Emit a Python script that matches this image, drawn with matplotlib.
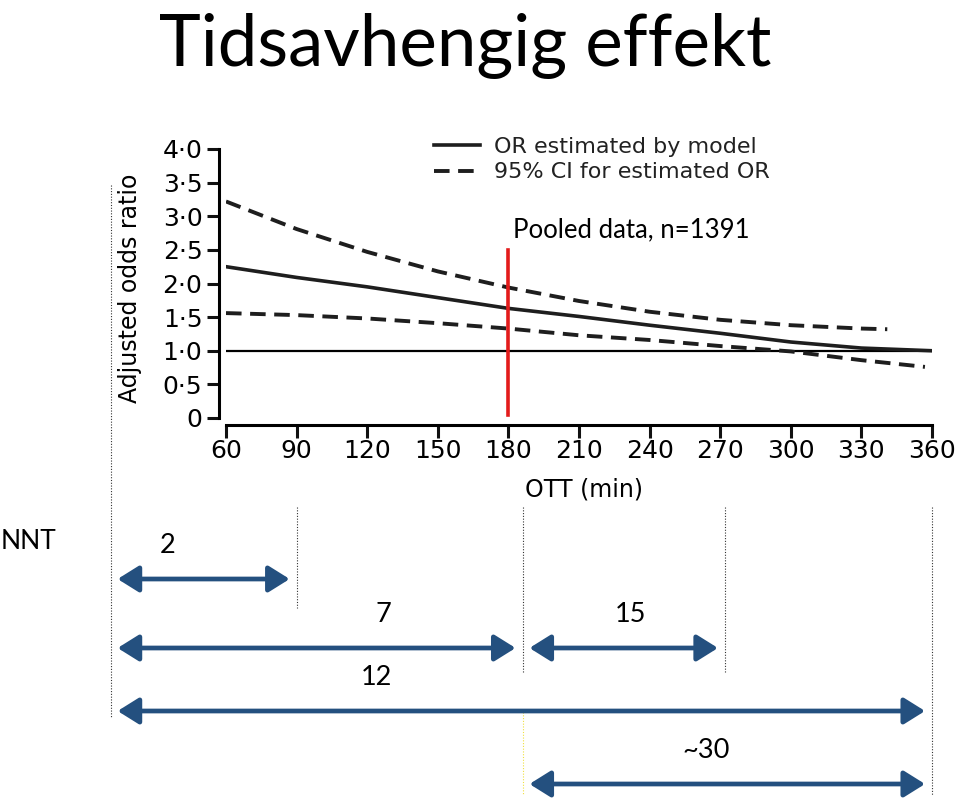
import matplotlib
matplotlib.use("Agg")
import matplotlib.pyplot as plt

# curve values (OTT in minutes, adjusted OR)
ott = [60, 90, 120, 150, 180, 210, 240, 270, 300, 330, 360]
or_est = [2.25, 2.09, 1.95, 1.79, 1.63, 1.51, 1.38, 1.26, 1.13, 1.04, 1.00]
ci_hi_ott = [60, 90, 120, 150, 180, 210, 240, 270, 300, 330, 341]
ci_hi = [3.22, 2.81, 2.47, 2.18, 1.94, 1.74, 1.58, 1.46, 1.38, 1.33, 1.32]
ci_lo_ott = [60, 90, 120, 150, 180, 210, 240, 270, 300, 330, 357]
ci_lo = [1.56, 1.53, 1.48, 1.41, 1.33, 1.23, 1.16, 1.07, 0.99, 0.86, 0.76]

x_ticks = [60, 90, 120, 150, 180, 210, 240, 270, 300, 330, 360]
y_ticks = [0, 0.5, 1.0, 1.5, 2.0, 2.5, 3.0, 3.5, 4.0]
y_ticklabels = ['0', '0·5', '1·0', '1·5', '2·0', '2·5', '3·0', '3·5', '4·0']

# NNT intervals (on the chart's OTT scale)
nnt_labels = ['2', '7', '15', '12', '~30']
nnt_spans = [(11, 90), (11, 186), (186, 272), (11, 360), (186, 360)]
nnt_row = [0, 1, 1, 2, 3]
nnt_label_x = [35, 127, 232, 124, 264]

W, H = 960, 802
fig = plt.figure(figsize=(9.6, 8.02), dpi=100)

ax = fig.add_axes([226 / W, 1 - 418 / H, 706 / W, 269 / H])
ax.plot([60, 360], [1, 1], color='black', lw=1.6)
ax.plot(ott, or_est, color='#1e1e1e', lw=2.6, label='OR estimated by model')
ax.plot(ci_hi_ott, ci_hi, color='#1e1e1e', lw=2.8, ls=(0, (4.0, 2.2)),
        label='95% CI for estimated OR')
ax.plot(ci_lo_ott, ci_lo, color='#1e1e1e', lw=2.8, ls=(0, (4.0, 2.2)))
ax.plot([180, 180], [0.05, 2.5], color='#e31b1b', lw=2.6)

ax.set_xlim(60, 360)
ax.set_ylim(0, 4)
ax.set_xticks(x_ticks)
ax.set_yticks(y_ticks)
ax.set_yticklabels(y_ticklabels)
for s in ['top', 'right']:
    ax.spines[s].set_visible(False)
for s in ['left', 'bottom']:
    ax.spines[s].set_position(('outward', 5))
    ax.spines[s].set_linewidth(2.2)
ax.tick_params(length=9, width=2.2, labelsize=18, color='#111111')
ax.tick_params(axis='y', pad=3)
ax.tick_params(axis='x', pad=1)

ax.text(182, 2.69, 'Pooled data, n=1391', fontfamily='Lato', fontsize=18.5,
        va='baseline', ha='left')

leg = ax.legend(loc='upper left', bbox_to_anchor=(0.294, 1.045), frameon=False,
                fontsize=16, handlelength=2.1, handletextpad=0.6,
                labelspacing=0.25, borderpad=0, borderaxespad=0)
for t in leg.get_texts():
    t.set_color('#222222')

fig.text(130 / W, 1 - 288 / H, 'Adjusted odds ratio', rotation=90,
         ha='center', va='center', fontsize=17)
fig.text(584 / W, 1 - 490 / H, 'OTT (min)', ha='center', va='center', fontsize=17)

fig.text(465 / W, 1 - 66 / H, 'Tidsavhengig effekt', fontfamily='Lato',
         fontsize=51, ha='center', va='baseline')

# lower part: NNT arrows on the same OTT scale, y in pixels
lo = fig.add_axes([226 / W, 0, 706 / W, 1])
lo.set_xlim(60, 360)
lo.set_ylim(H, 0)
lo.axis('off')
lo.patch.set_alpha(0)

dots = (0, (1, 1.5))
cut_extent = {11: (185, 718), 90: (507, 608), 186: (507, 672),
              272: (507, 672), 360: (507, 795)}
for c, (y0, y1) in cut_extent.items():
    lo.plot([c, c], [y0, y1], color='#333333', lw=0.8, ls=dots, clip_on=False)
lo.plot([186, 186], [712, 795], color='#f0e040', lw=0.8, ls=dots, clip_on=False)

row_y = [579, 648, 711, 784]
for lab, (a, b), r, lx in zip(nnt_labels, nnt_spans, nnt_row, nnt_label_x):
    y = row_y[r]
    lo.annotate('', xy=(b, y), xytext=(a, y),
                arrowprops=dict(arrowstyle='<|-|>,head_length=0.8,head_width=0.5',
                                color='#24507f', lw=3.4, shrinkA=5, shrinkB=5,
                                mutation_scale=16),
                annotation_clip=False)
    lo.text(lx, y - 26, lab, fontfamily='Lato', fontsize=19.5, ha='center',
            va='baseline')

fig.text(1 / W, 1 - 549 / H, 'NNT', fontfamily='Lato', fontsize=19,
         ha='left', va='baseline')

fig.savefig('out.png', dpi=100)
